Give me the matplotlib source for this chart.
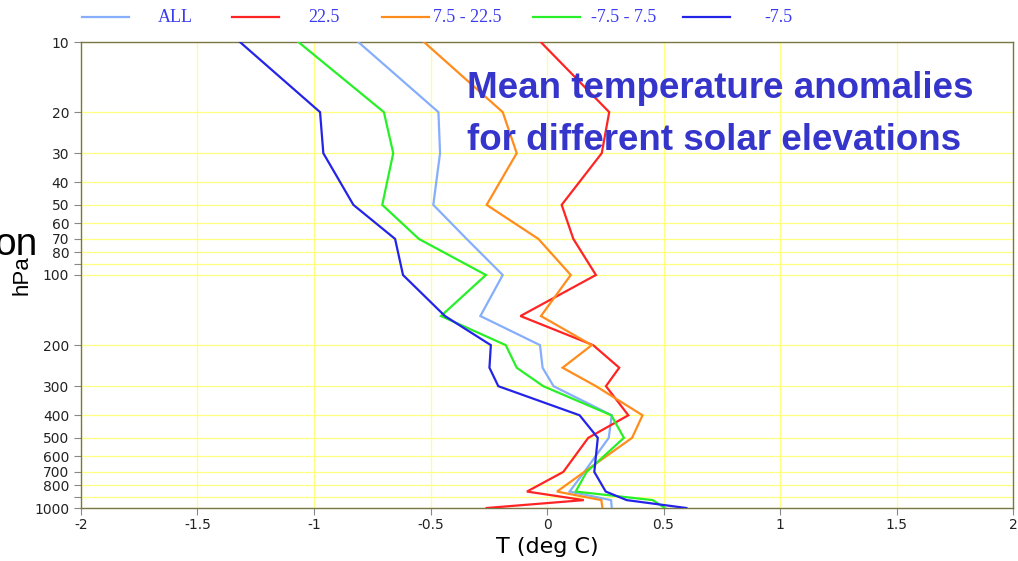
import matplotlib as mpl
import matplotlib.pyplot as plt
from matplotlib.lines import Line2D
from matplotlib.ticker import FixedLocator, FixedFormatter, NullLocator

mpl.rcParams.update({
    "font.family": "DejaVu Sans",
})

# Pressure levels (hPa) and mean temperature anomalies (deg C) per solar elevation class
LEVELS = [10, 20, 30, 50, 70, 100, 150, 200, 250, 300, 400, 500, 700, 850, 925, 1000]
T_ALL = [-0.81, -0.466, -0.459, -0.488, -0.345, -0.19, -0.286, -0.03, -0.019, 0.028,
         0.278, 0.265, 0.16, 0.097, 0.275, 0.278]
T_HIGH = [-0.027, 0.267, 0.235, 0.063, 0.113, 0.21, -0.114, 0.198, 0.31, 0.253,
          0.349, 0.177, 0.07, -0.086, 0.158, -0.259]
T_MID = [-0.528, -0.19, -0.13, -0.259, -0.037, 0.102, -0.026, 0.192, 0.067, 0.21,
         0.41, 0.365, 0.16, 0.043, 0.233, 0.238]
T_LOW = [-1.067, -0.70, -0.66, -0.707, -0.55, -0.262, -0.455, -0.177, -0.13, -0.016,
         0.276, 0.33, 0.17, 0.123, 0.454, 0.506]
T_NEG = [-1.318, -0.974, -0.96, -0.831, -0.652, -0.618, -0.438, -0.241, -0.247, -0.209,
         0.14, 0.218, 0.203, 0.252, 0.342, 0.598]

SERIES = ["ALL", "22.5", "7.5 - 22.5", "-7.5 - 7.5", "-7.5"]
COLORS = ["#86aefc", "#ff2424", "#ff8c1c", "#28f028", "#2424e8"]
VALUES = [T_ALL, T_HIGH, T_MID, T_LOW, T_NEG]

X_TICKS = [-2, -1.5, -1, -0.5, 0, 0.5, 1, 1.5, 2]
Y_TICKS = [10, 20, 30, 40, 50, 60, 70, 80, 90, 100,
           200, 300, 400, 500, 600, 700, 800, 900, 1000]
Y_LABELS = ["10", "20", "30", "40", "50", "60", "70", "80", "", "100",
            "200", "300", "400", "500", "600", "700", "800", "", "1000"]

W, H = 1018, 561
fig = plt.figure(figsize=(W / 100, H / 100), dpi=100)
ax = fig.add_axes([81 / W, 1 - 508 / H, 932 / W, 466 / H])

for vals, col in zip(VALUES, COLORS):
    ax.plot(vals, LEVELS, color=col, lw=1.6, zorder=3, solid_joinstyle="miter")

ax.set_yscale("log")
ax.set_ylim(1000, 10)
ax.set_xlim(-2, 2)
ax.yaxis.set_major_locator(FixedLocator(Y_TICKS))
ax.yaxis.set_major_formatter(FixedFormatter(Y_LABELS))
ax.yaxis.set_minor_locator(NullLocator())
ax.set_xticks(X_TICKS)
ax.set_xticklabels(["-2", "-1.5", "-1", "-0.5", "0", "0.5", "1", "1.5", "2"])
ax.grid(True, color="#ffff80", lw=0.9, zorder=0)
ax.set_axisbelow(True)
for s in ax.spines.values():
    s.set_color("#77774a")
    s.set_linewidth(1.0)
ax.tick_params(axis="both", colors="#888888", labelcolor="#222222", labelsize=10,
               length=5, width=0.8)
ax.tick_params(axis="x", pad=2)

ax.set_xlabel("T (deg C)", fontsize=16, labelpad=4)

# legend row across the top
LEG_LINE = [82, 232, 382, 533, 683]
LEG_TEXT = [158, 308, 433, 591, 764]
for name, col, lx, tx in zip(SERIES, COLORS, LEG_LINE, LEG_TEXT):
    fig.add_artist(Line2D([lx / W, (lx + 47) / W], [1 - 17 / H, 1 - 17 / H],
                          color=col, lw=1.6, transform=fig.transFigure))
    fig.text(tx / W, 1 - 17 / H, name, color="#3b3bf0", fontsize=13,
             family="Liberation Serif", va="center", ha="left")

fig.text(467 / W, 1 - 88 / H, "Mean temperature anomalies", color="#3535cc",
         fontsize=26.5, fontweight="bold", family="Liberation Sans", va="center", ha="left")
fig.text(467 / W, 1 - 140 / H, "for different solar elevations", color="#3535cc",
         fontsize=26.5, fontweight="bold", family="Liberation Sans", va="center", ha="left")

fig.text(38 / W, 1 - 245 / H, "on", fontsize=28, ha="right", va="center",
         family="Liberation Sans")
fig.text(22 / W, 1 - 275 / H, "hPa", fontsize=16, rotation=90, ha="center", va="center",
         family="Liberation Sans")

fig.savefig("out.png", dpi=100)
